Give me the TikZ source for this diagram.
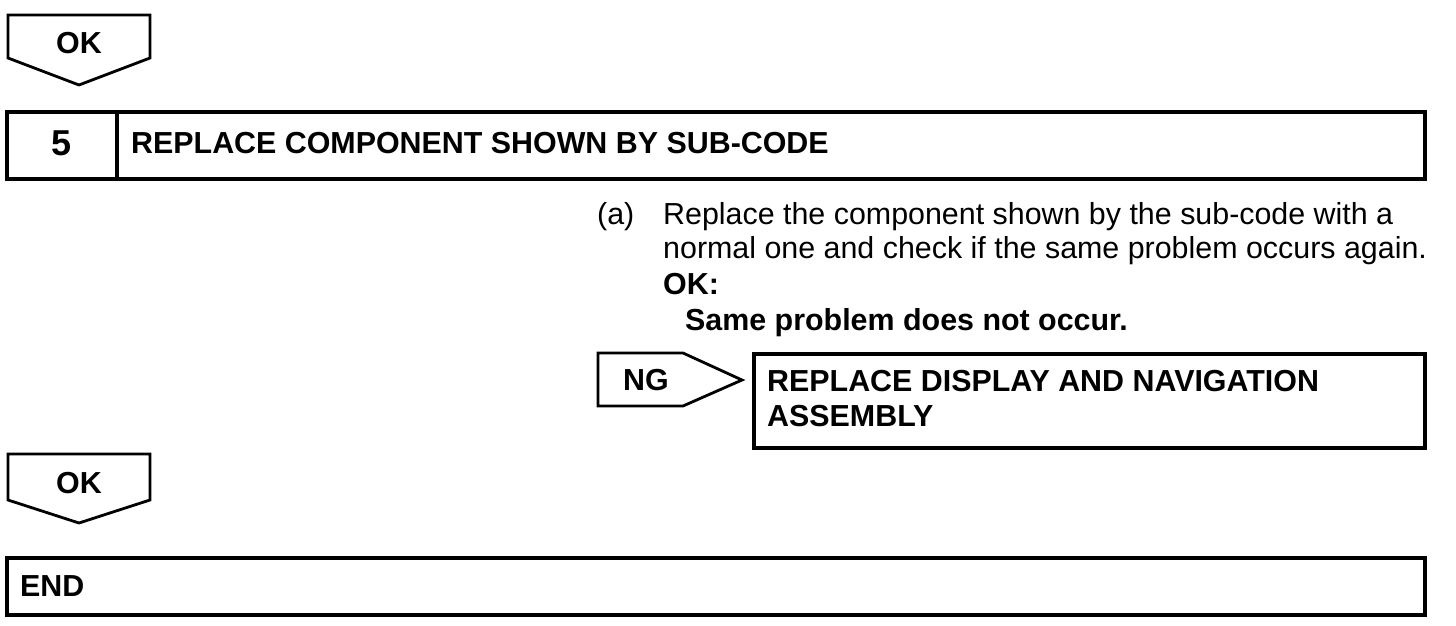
\documentclass[tikz,border=0pt]{standalone}
\usepackage{fontspec}
\setmainfont{Liberation Sans}
\begin{document}
\begin{tikzpicture}[x=1pt,y=-1pt,
  boxline/.style={line width=4pt, line join=miter},
  tagline/.style={line width=2.8pt, line join=miter},
  txt/.style={inner sep=0pt, font=\fontsize{30.4}{35}\selectfont},
  btxt/.style={inner sep=0pt, font=\fontsize{30.4}{35}\selectfont\bfseries}]
\useasboundingbox (0,0) rectangle (1456,626);
% top OK tag
\draw[tagline] (8,15) -- (150,15) -- (150,58) -- (79,85) -- (8,58) -- cycle;
\node[btxt, anchor=base] (ok1) at (79,53) {OK};
% step 5 box
\draw[boxline] (7,112) rectangle (1425,179);
\draw[boxline] (117,112) -- (117,179);
\node[btxt, anchor=base, font=\fontsize{36}{40}\selectfont\bfseries] (num) at (62,155) {5};
\node[btxt, anchor=base west] (title) at (131,153) {REPLACE COMPONENT SHOWN BY SUB-CODE};
% body
\node[txt, anchor=base west] (a) at (597,224) {(a)};
\node[txt, anchor=base west] (l1) at (663,224) {Replace the component shown by the sub-code with a};
\node[txt, anchor=base west] (l2) at (663,258) {normal one and check if the same problem occurs again.};
\node[btxt, anchor=base west] (l3) at (663,294) {OK:};
\node[btxt, anchor=base west] (l4) at (685,330) {Same problem does not occur.};
% NG tag
\draw[tagline] (598,353) -- (683,353) -- (742,380) -- (683,406) -- (598,406) -- cycle;
\node[btxt, anchor=base west] (ng) at (623,390) {NG};
% replace box
\draw[boxline] (754,354) rectangle (1425,448);
\node[btxt, anchor=base west] (rep) at (767,391) {REPLACE DISPLAY AND NAVIGATION};
\node[btxt, anchor=base west] (rep2) at (767,426) {ASSEMBLY};
% bottom OK tag
\draw[tagline] (8,454) -- (150,454) -- (150,500) -- (79,523) -- (8,500) -- cycle;
\node[btxt, anchor=base] (ok2) at (79,493) {OK};
% END box
\draw[boxline] (7,558) rectangle (1425,615);
\node[btxt, anchor=base west] (endt) at (20,596) {END};
\end{tikzpicture}
\end{document}
